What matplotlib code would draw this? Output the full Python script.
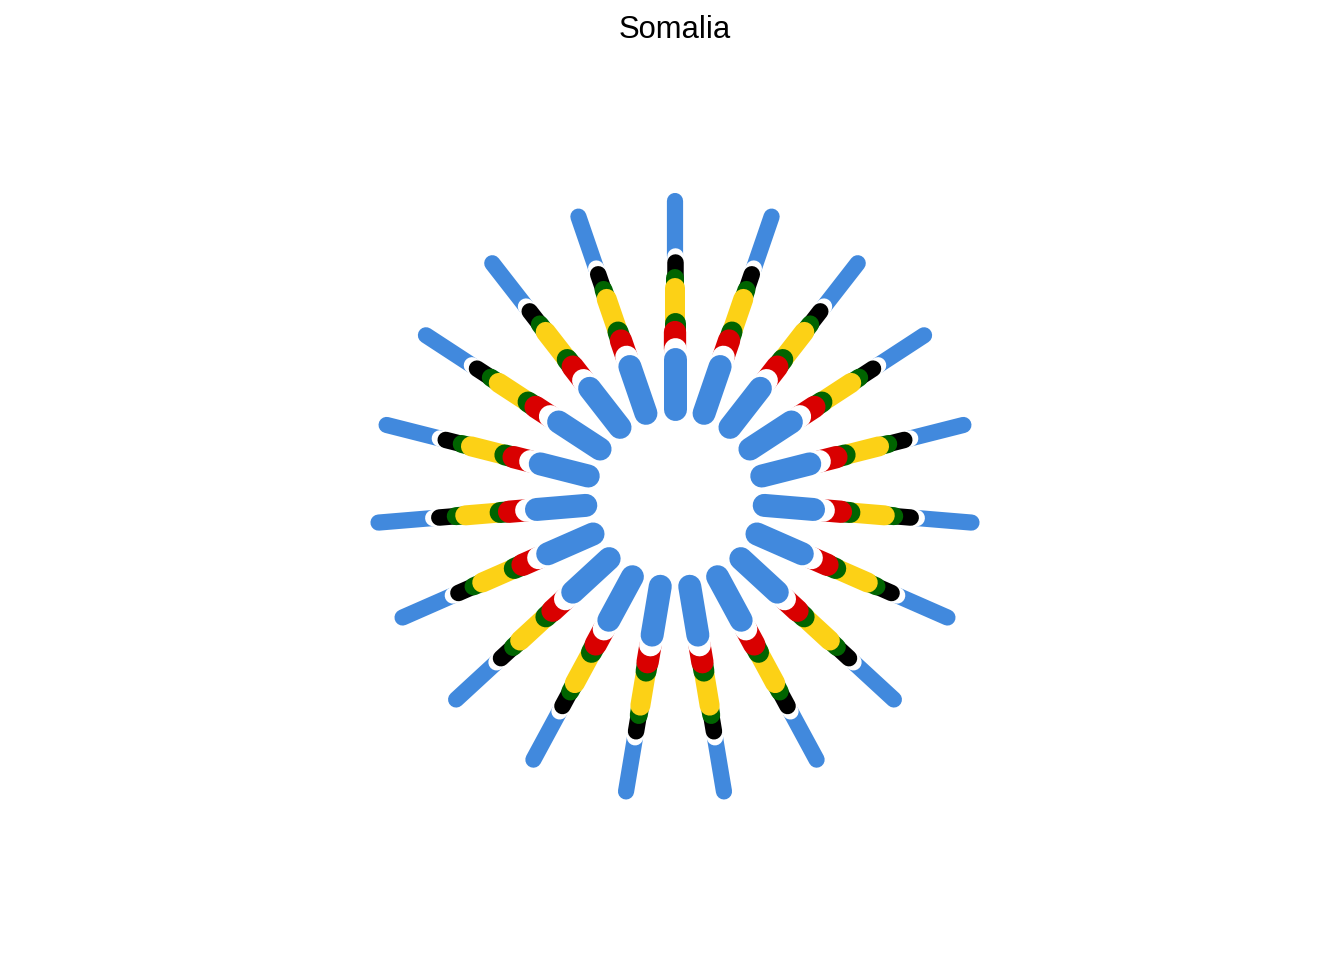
import numpy as np
import matplotlib
matplotlib.use("Agg")
import matplotlib.pyplot as plt

# 19 spokes, one at the top, going clockwise
spokes = list(range(19))

# segments drawn from the outside in; each ends (outer end) at these radii
seg_names = ["blue_out", "white_out", "black", "green_out", "yellow",
             "green_in", "red", "white_in", "blue_in"]
seg_colors = ["#4189DD", "#FFFFFF", "#000000", "#006400", "#FCD116",
              "#006400", "#D90000", "#FFFFFF", "#4189DD"]
seg_outer = [297.5, 242.5, 236.5, 220.0, 210.5, 175.5, 166.5, 149.0, 139.0]
inner_start = 89.5
seg_width_px = [16.2, 16.5, 16.5, 18.0, 20.0, 21.0, 22.3, 22.8, 23.0]

DPI = 100
fig = plt.figure(figsize=(13.44, 9.6), dpi=DPI)

cx, cy, R = 675, 498, 330  # panel centre and half size in pixels
ax = fig.add_axes([(cx - R) / 1344, (960 - cy - R) / 960, 2 * R / 1344, 2 * R / 960],
                  projection="polar")
ax.set_theta_zero_location("N")
ax.set_theta_direction(-1)
ax.set_ylim(0, R)
ax.axis("off")

seg_inner = seg_outer[1:] + [inner_start]
for k in spokes:
    theta = 2 * np.pi * k / len(spokes)
    for r0, r1, col, w in zip(seg_inner, seg_outer, seg_colors, seg_width_px):
        ax.plot([theta, theta], [r0, r1], color=col, lw=w * 72 / DPI,
                solid_capstyle="round")

fig.text(675 / 1344, 1 - 38.5 / 960, "Somalia", ha="center", va="baseline",
         fontsize=22.3, family=["Liberation Sans", "DejaVu Sans"])

fig.savefig("out.png", dpi=DPI)
